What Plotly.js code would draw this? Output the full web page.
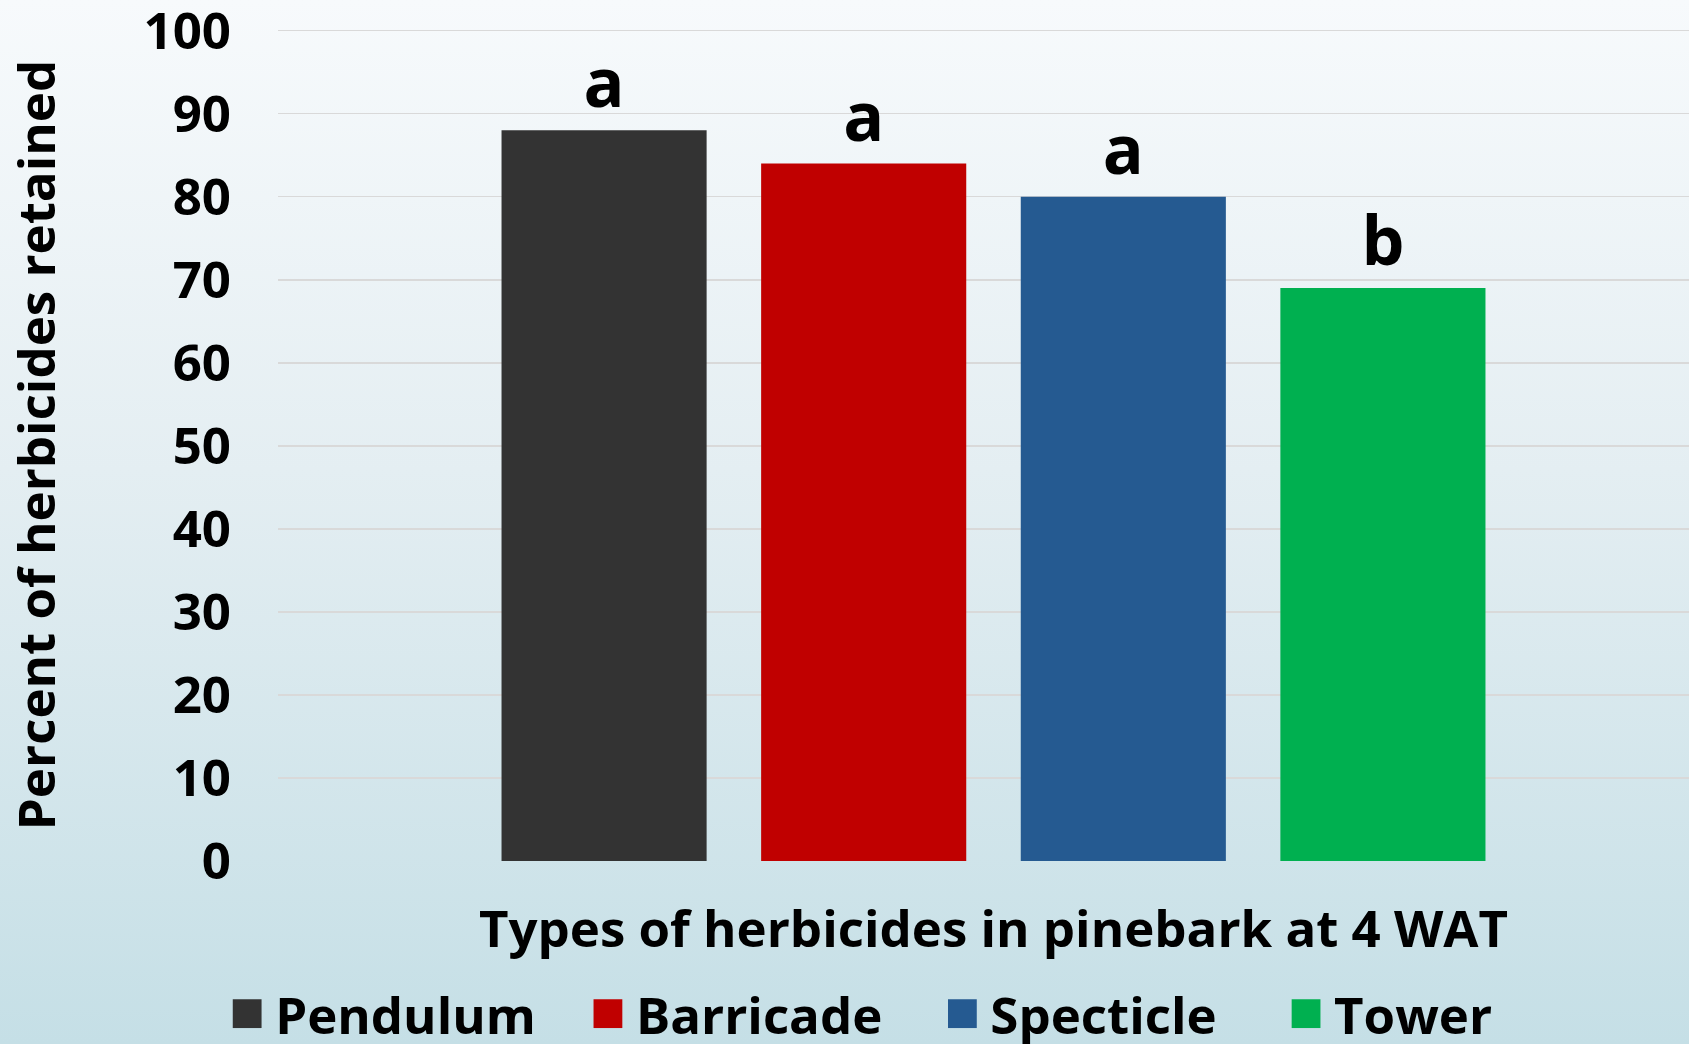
<!DOCTYPE html>
<html>
<head>
<meta charset="utf-8">
<script src="https://cdn.plot.ly/plotly-3.0.1.min.js"></script>
<style>
  html, body { margin: 0; padding: 0; width: 1689px; height: 1044px; overflow: hidden;
    background: linear-gradient(to bottom, #f7fafc 0%, #e4eef2 45%, #c5dfe6 100%); }
  #chart { width: 1709px; height: 1044px; }
</style>
</head>
<body>
<div id="chart"></div>
<script>
const herbicides = ["Pendulum", "Barricade", "Specticle", "Tower"];
const retained = [88, 84, 80, 69];
const letters = ["a", "a", "a", "b"];
const colors = ["#333333", "#c00000", "#255a91", "#00b050"];

const FONT = "Open Sans, Liberation Sans, sans-serif";
const legendIds = ["legend", "legend2", "legend3", "legend4"];
const legendX = [0.1376, 0.3487, 0.5561, 0.7572];

const traces = herbicides.map((name, i) => ({
  type: "bar",
  name: name,
  x: [name],
  y: [retained[i]],
  width: 0.79,
  marker: { color: colors[i] },
  text: [letters[i]],
  textposition: "outside",
  cliponaxis: false,
  textfont: { family: FONT, size: 68, color: "#000", weight: 700 },
  legend: legendIds[i],
  hoverinfo: "skip"
}));

const layout = {
  width: 1709,
  height: 1044,
  margin: { l: 278, r: 0, t: 29, b: 183 },
  paper_bgcolor: "rgba(0,0,0,0)",
  plot_bgcolor: "rgba(0,0,0,0)",
  barmode: "overlay",
  font: { family: FONT, color: "#000" },
  xaxis: {
    type: "category",
    categoryorder: "array",
    categoryarray: herbicides,
    range: [-1.256, 4.256],
    showticklabels: false,
    showgrid: false,
    zeroline: false,
    showline: false,
    ticks: "",
    automargin: false,
    title: { text: "Types of herbicides in pinebark at 4 WAT", standoff: 50,
             font: { family: FONT, size: 51, color: "#000", weight: 700 } }
  },
  yaxis: {
    range: [0, 100.2],
    dtick: 10,
    showgrid: true,
    gridcolor: "#d9d9d9",
    gridwidth: 1.5,
    zeroline: false,
    showline: false,
    ticks: "",
    automargin: false,
    ticklabeloverflow: "allow",
    ticklabelstandoff: 46,
    tickfont: { family: FONT, size: 51, color: "#000", weight: 700 },
    title: { text: "Percent of herbicides retained", standoff: 100,
             font: { family: FONT, size: 51, color: "#000", weight: 700 } }
  },
  showlegend: true
};

legendIds.forEach((id, i) => {
  layout[id] = {
    orientation: "h",
    xref: "container", yref: "container",
    x: legendX[i], xanchor: "left",
    y: 1 - 1014 / 1044, yanchor: "middle",
    bgcolor: "rgba(0,0,0,0)",
    font: { family: FONT, size: 51, color: "#000", weight: 700 }
  };
});

Plotly.newPlot("chart", traces, layout, { displayModeBar: false, staticPlot: true }).then(() => {
  const legendSel = legendIds.map(id => "g." + id).join(", ");
  document.querySelectorAll(legendSel).forEach(g => {
    g.querySelectorAll(".legendpoints path").forEach(p => {
      p.setAttribute("transform", "translate(12,0) scale(2.4)");
    });
    g.querySelectorAll("[clip-path]").forEach(el => el.removeAttribute("clip-path"));
  });
});
</script>
</body>
</html>
